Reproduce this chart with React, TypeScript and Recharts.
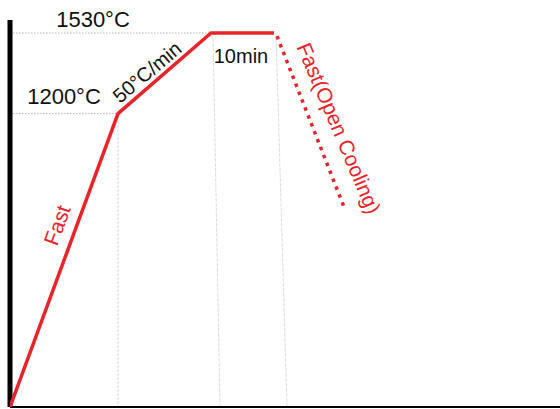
import { LineChart, Line, XAxis, YAxis, ReferenceLine, ReferenceDot } from "recharts";

// heating profile: time (arbitrary units) vs temperature (°C)
const heatTimes = [0, 10.8, 20.1, 26.4];
const heatTemps = [0, 1200, 1530, 1530];

// open cooling (dotted)
const coolTimes = [26.7, 33.4];
const coolTemps = [1517, 818];

// dotted horizontal guides
const levelTemps = [1530, 1200];
const levelEnds = [20.1, 10.8];

// vertical guides (slightly skewed in the sketch)
const guideTopT = [10.8, 20.3, 26.6];
const guideBotT = [10.8, 21.0, 27.7];
const guideTopTemp = [1200, 1530, 1530];

// annotations
const noteTexts = ["1530°C", "1200°C", "50°C/min", "10min", "Fast", "Fast(Open Cooling)"];
const noteT = [8.3, 5.4, 13.7, 23.1, 4.7, 32.9];
const noteTemp = [1554, 1239, 1370, 1407, 744, 1141];

const heatData = heatTimes.map((t, i) => ({ t, temp: heatTemps[i] }));
const coolData = coolTimes.map((t, i) => ({ t, temp: coolTemps[i] }));

const RED = "#e8242a";
const FONT = "'Liberation Sans', Arial, Helvetica, sans-serif";

const noteStyle = [
  { size: 22, color: "#111", angle: 0, baseline: "auto" },
  { size: 22, color: "#111", angle: 0, baseline: "auto" },
  { size: 20, color: "#111", angle: -40, baseline: "central" },
  { size: 20, color: "#111", angle: 0, baseline: "auto" },
  { size: 21, color: RED, angle: -70, baseline: "central" },
  { size: 21, color: RED, angle: 67, baseline: "central" },
];

export default function App() {
  return (
    <div style={{ position: "absolute", left: 0, top: 0, width: 560, height: 409, background: "#fff" }}>
      <LineChart width={560} height={409} margin={{ top: 20, right: 0, left: 10, bottom: 2 }}>
        <XAxis type="number" dataKey="t" domain={[0, 55]} hide allowDataOverflow />
        <YAxis type="number" dataKey="temp" domain={[0, 1583]} hide allowDataOverflow />

        {levelTemps.map((temp, i) => (
          <ReferenceLine
            key={"h" + i}
            segment={[
              { x: 0, y: temp },
              { x: levelEnds[i], y: temp },
            ]}
            stroke="#b5b5b5"
            strokeDasharray="1.5 1.5"
            strokeWidth={1}
          />
        ))}

        {guideTopT.map((t, i) => (
          <ReferenceLine
            key={"v" + i}
            segment={[
              { x: t, y: guideTopTemp[i] },
              { x: guideBotT[i], y: 0 },
            ]}
            stroke={i === 0 ? "#cfcfcf" : "#dedede"}
            strokeDasharray={i === 0 ? "2 2" : "4 1"}
            strokeWidth={1}
          />
        ))}

        {/* axes drawn as plain lines, no ticks */}
        <ReferenceLine y={0} stroke="#000" strokeWidth={2} />
        <ReferenceLine x={0} stroke="#000" strokeWidth={5} />

        <Line
          data={heatData}
          dataKey="temp"
          stroke={RED}
          strokeWidth={3.5}
          dot={false}
          activeDot={false}
          isAnimationActive={false}
        />
        <Line
          data={coolData}
          dataKey="temp"
          stroke={RED}
          strokeWidth={3.5}
          strokeDasharray="3.5 5"
          dot={false}
          activeDot={false}
          isAnimationActive={false}
        />

        {noteTexts.map((txt, i) => (
          <ReferenceDot
            key={"n" + i}
            x={noteT[i]}
            y={noteTemp[i]}
            r={0.01}
            fill="none"
            stroke="none"
            ifOverflow="visible"
            label={(props: any) => {
              const vb = props.viewBox || {};
              const cx = (vb.x ?? 0) + (vb.width ?? 0) / 2;
              const cy = (vb.y ?? 0) + (vb.height ?? 0) / 2;
              const st = noteStyle[i];
              return (
                <text
                  x={cx}
                  y={cy}
                  textAnchor="middle"
                  dominantBaseline={st.baseline}
                  fill={st.color}
                  fontSize={st.size}
                  fontFamily={FONT}
                  transform={st.angle ? `rotate(${st.angle} ${cx} ${cy})` : undefined}
                >
                  {txt}
                </text>
              );
            }}
          />
        ))}
      </LineChart>
    </div>
  );
}
